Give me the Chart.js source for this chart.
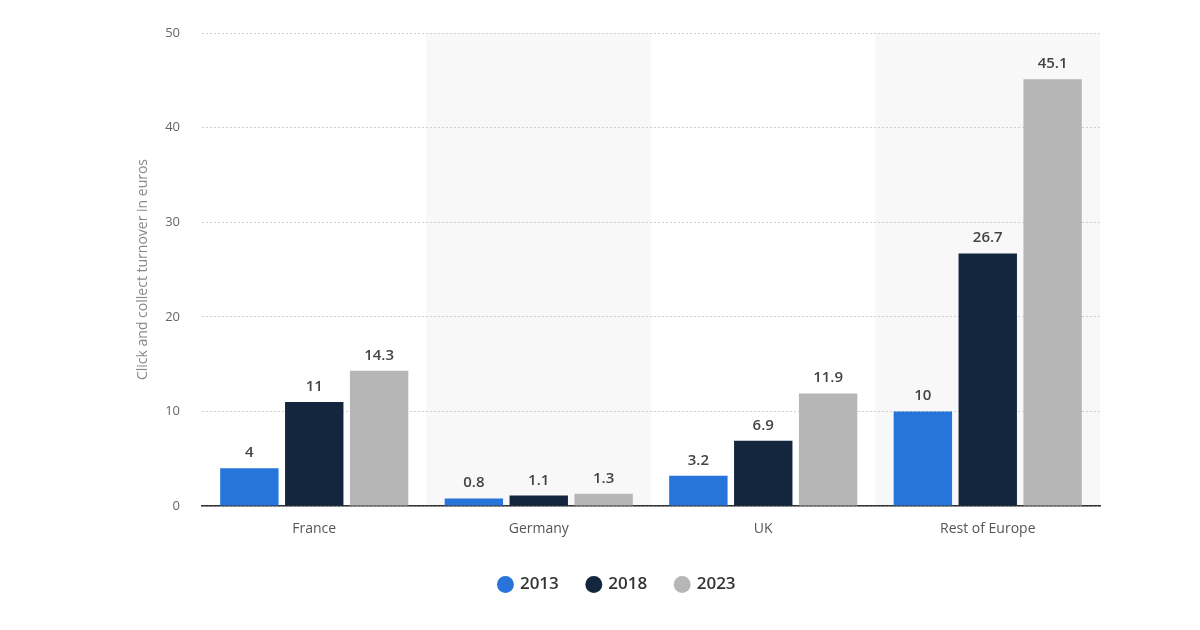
<!DOCTYPE html>
<html>
<head>
    <title>Click and collect turnover</title>
    <script src="https://cdn.jsdelivr.net/npm/chart.js"></script>
    <style>
        html, body { margin: 0; padding: 0; background: #fff; }
        #wrap { width: 1200px; height: 630px; }
    </style>
</head>
<body>
    <div id="wrap"><canvas id="chart" width="1200" height="630"></canvas></div>

    <script>
        const regions = ['France', 'Germany', 'UK', 'Rest of Europe'];
        const years = ['2013', '2018', '2023'];
        const values2013 = [4, 0.8, 3.2, 10];
        const values2018 = [11, 1.1, 6.9, 26.7];
        const values2023 = [14.3, 1.3, 11.9, 45.1];
        const yTicks = [0, 10, 20, 30, 40, 50];

        const colors = ['#2775db', '#13263d', '#b6b6b6'];
        const FONT = '"Open Sans", "Noto Sans", sans-serif';

        // shade every second category, drawn before the grid so dotted lines stay visible
        const bandPlugin = {
            id: 'bands',
            beforeDraw(chart) {
                const { ctx, chartArea, scales } = chart;
                const step = (chartArea.right - chartArea.left) / regions.length;
                ctx.save();
                ctx.fillStyle = '#f8f8f8';
                regions.forEach((r, i) => {
                    if (i % 2 === 1) {
                        const cx = scales.x.getPixelForValue(i);
                        ctx.fillRect(cx - step / 2, chartArea.top, step, chartArea.bottom - chartArea.top);
                    }
                });
                ctx.restore();
            }
        };

        // value labels above bars
        const labelPlugin = {
            id: 'valueLabels',
            afterDatasetsDraw(chart) {
                const ctx = chart.ctx;
                ctx.save();
                ctx.font = '600 15px ' + FONT;
                ctx.fillStyle = '#444';
                ctx.textAlign = 'center';
                ctx.textBaseline = 'alphabetic';
                chart.data.datasets.forEach((ds, di) => {
                    chart.getDatasetMeta(di).data.forEach((bar, i) => {
                        ctx.fillText(String(ds.data[i]), bar.x, bar.y - 11);
                    });
                });
                ctx.restore();
            }
        };

        new Chart(document.getElementById('chart'), {
            type: 'bar',
            data: {
                labels: regions,
                datasets: [values2013, values2018, values2023].map((vals, i) => ({
                    label: years[i],
                    data: vals,
                    backgroundColor: colors[i],
                    categoryPercentage: 0.867,
                    barPercentage: 0.9
                }))
            },
            options: {
                responsive: false,
                animation: false,
                layout: { padding: { left: 135, right: 100, top: 33, bottom: 27 } },
                plugins: {
                    tooltip: { enabled: false },
                    legend: {
                        position: 'bottom',
                        labels: {
                            usePointStyle: true,
                            pointStyle: 'circle',
                            boxWidth: 12,
                            boxHeight: 12,
                            padding: 29,
                            color: '#333',
                            font: { family: FONT, size: 17, weight: '600' }
                        }
                    }
                },
                scales: {
                    x: {
                        grid: { display: false },
                        border: { display: true, color: '#333', width: 1.5 },
                        ticks: { color: '#555', padding: 7, font: { family: FONT, size: 14 } },
                        afterFit(s) { s.height = 41; }
                    },
                    y: {
                        min: 0,
                        max: 50,
                        afterBuildTicks(s) { s.ticks = yTicks.map(v => ({ value: v })); },
                        grid: { color: '#cfcfcf', lineWidth: 1, drawTicks: false },
                        border: { display: false, dash: [2, 2] },
                        ticks: { color: '#666', padding: 22, font: { family: FONT, size: 13 } },
                        title: {
                            display: true,
                            text: 'Click and collect turnover in euros',
                            color: '#888',
                            padding: 0,
                            font: { family: FONT, size: 14 }
                        },
                        afterFit(s) { s.width = 67; }
                    }
                }
            },
            plugins: [bandPlugin, labelPlugin]
        });
    </script>
</body>
</html>
